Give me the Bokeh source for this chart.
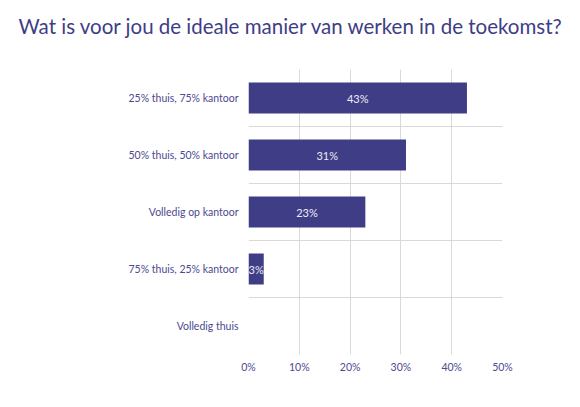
from bokeh.plotting import figure
from bokeh.models import ColumnDataSource, FixedTicker, Range1d, Title
from bokeh.core.properties import value
from bokeh.embed import file_html
from bokeh.resources import INLINE

title_text = "Wat is voor jou de ideale manier van werken in de toekomst?"
categories = ["25% thuis, 75% kantoor", "50% thuis, 50% kantoor", "Volledig op kantoor",
              "75% thuis, 25% kantoor", "Volledig thuis"]
percentages = [43, 31, 23, 3, 0]
x_ticks = [0, 10, 20, 30, 40, 50]

FONT = "Lato"
PURPLE = "#3E3D86"
TEXT = "#4A4A90"

n = len(categories)
ypos = [n - 1 - i for i in range(n)]
labels = [f"{v}%" for v in percentages]
src = ColumnDataSource(dict(y=ypos, v=percentages))
lab_src = ColumnDataSource(dict(
    y=[y for y, v in zip(ypos, percentages) if v > 0],
    cx=[v / 2 for v in percentages if v > 0],
    lab=[l for l, v in zip(labels, percentages) if v > 0],
))

p = figure(width=564, height=391, output_backend="svg", toolbar_location=None,
           x_range=Range1d(0, 50), y_range=Range1d(-0.5, n - 0.5),
           min_border_left=248, min_border_right=62, min_border_bottom=37, min_border_top=0)

p.title.text = title_text
p.title.text_font = FONT
p.title.text_font_size = "20.5px"
p.title.text_font_style = "normal"
p.title.text_color = PURPLE
p.title.align = "left"
p.title.offset = -230
p.title.standoff = 22

spacer = Title(text=" ", text_font_size="17px", standoff=0)
p.add_layout(spacer, "above")

p.hbar(y="y", right="v", left=0, height=0.54, source=src,
       fill_color=PURPLE, line_color=None)
p.text(x="cx", y="y", text="lab", source=lab_src, text_align="center", text_baseline="middle",
       text_color="#ECECF6", text_font=value(FONT), text_font_size="11px")

p.outline_line_color = None
p.xgrid.ticker = FixedTicker(ticks=x_ticks)
p.ygrid.ticker = FixedTicker(ticks=[i - 0.5 for i in range(n + 1)])
for g in (p.xgrid[0], p.ygrid[0]):
    g.grid_line_color = "#D9D9D9"
    g.grid_line_width = 1

p.xaxis.ticker = FixedTicker(ticks=x_ticks)
p.xaxis.major_label_overrides = {t: f"{t}%" for t in x_ticks}
p.yaxis.ticker = FixedTicker(ticks=ypos)
p.yaxis.major_label_overrides = {y: c for y, c in zip(ypos, categories)}
for ax in (p.xaxis[0], p.yaxis[0]):
    ax.axis_line_color = None
    ax.major_tick_line_color = None
    ax.minor_tick_line_color = None
    ax.major_tick_out = 0
    ax.minor_tick_out = 0
    ax.major_label_text_font = FONT
    ax.major_label_text_font_size = "10.5px"
    ax.major_label_text_color = TEXT
p.xaxis.major_label_standoff = 6
p.yaxis.major_label_standoff = 10

open("out.html", "w").write(file_html(p, INLINE))
